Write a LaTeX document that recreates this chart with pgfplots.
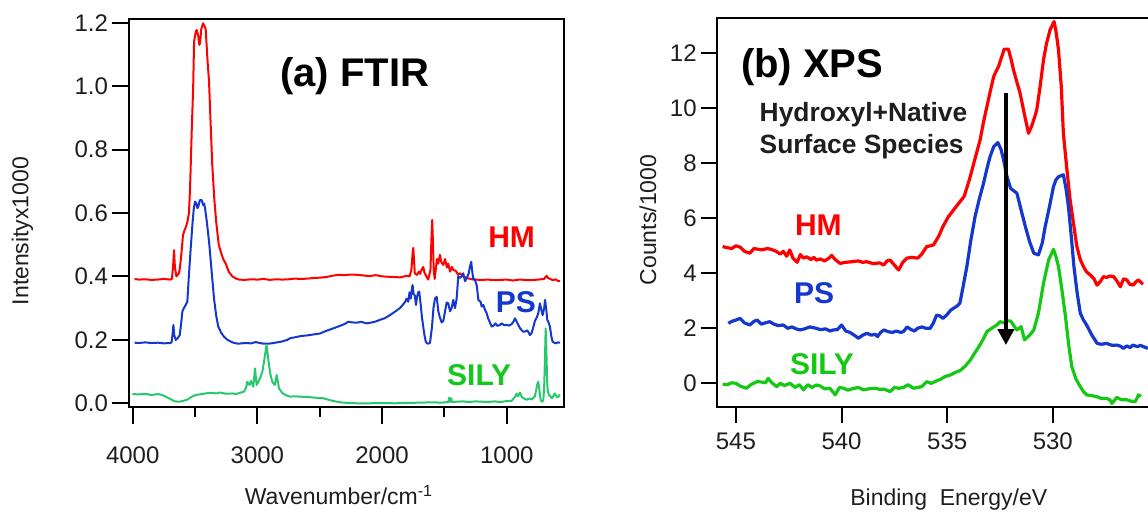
\documentclass[border=0pt]{standalone}
\usepackage{fontspec}
\setmainfont{Liberation Sans}
\usepackage{pgfplots}
\pgfplotsset{compat=1.18}
\usetikzlibrary{arrows.meta}
\definecolor{cred}{RGB}{255,0,0}
\definecolor{cblue}{RGB}{20,55,205}
\definecolor{cgreenA}{RGB}{40,200,110}
\definecolor{cgreenL}{RGB}{20,200,30}
\definecolor{cgreenB}{RGB}{20,200,20}
\definecolor{ctext}{RGB}{30,30,30}
\pgfplotsset{
  mystyle/.style={
    scale only axis,
    axis line style={line width=1pt, black},
    every tick/.style={line width=1pt, black},
    tick align=outside,
    xtick pos=bottom, ytick pos=left,
    ticklabel style={font=\fontsize{12}{14}\selectfont, text=ctext},
    yticklabel style={xshift=1.5pt},
    /pgf/number format/assume math mode=true,
    /pgf/number format/1000 sep={},
  }
}
\begin{document}
\begin{tikzpicture}
\useasboundingbox (0,0) rectangle (574pt,257pt);
% ---------------- Panel (a) FTIR ----------------
\begin{axis}[mystyle,
  at={(64.5pt,53.5pt)}, anchor=south west,
  width=217.5pt, height=193.75pt,
  x dir=reverse, xmin=541, xmax=4030, ymin=-0.0117, ymax=1.21,
  xtick={1000,2000,3000,4000}, minor xtick={1500,2500,3500},
  ytick={0,0.2,0.4,0.6,0.8,1.0,1.2},
  major tick length=8.5pt, minor tick length=5pt,
  xticklabel style={yshift=-8pt},
  yticklabel style={/pgf/number format/.cd, fixed, fixed zerofill, precision=1},
]
\addplot[cred, line width=1pt, line join=round] coordinates {
(3985,0.392)(3950,0.390)(3900,0.391)(3850,0.389)(3800,0.390)(3750,0.392)(3700,0.390)
(3685,0.393)(3675,0.440)(3669,0.483)(3662,0.430)(3650,0.400)(3640,0.405)(3630,0.410)
(3622,0.425)(3610,0.470)(3597,0.530)(3585,0.545)(3570,0.560)(3560,0.575)(3549,0.600)
(3540,0.680)(3527,0.856)(3515,1.00)(3508,1.14)(3495,1.17)(3487,1.177)(3475,1.16)
(3466,1.13)(3460,1.135)(3450,1.18)(3436,1.198)(3425,1.19)(3415,1.18)(3400,1.08)
(3388,1.014)(3375,0.88)(3362,0.75)(3345,0.64)(3330,0.57)(3310,0.50)(3294,0.478)
(3275,0.455)(3254,0.44)(3230,0.415)(3201,0.400)(3170,0.393)(3148,0.390)(3100,0.389)
(3050,0.391)(3000,0.390)(2950,0.392)(2900,0.389)(2850,0.391)(2800,0.390)(2750,0.391)
(2700,0.393)(2650,0.392)(2600,0.393)(2550,0.395)(2500,0.396)(2450,0.398)(2400,0.402)
(2350,0.405)(2300,0.404)(2250,0.406)(2200,0.405)(2150,0.403)(2100,0.401)(2050,0.404)
(2000,0.400)(1950,0.399)(1900,0.398)(1857,0.397)(1800,0.402)(1780,0.400)(1765,0.420)
(1755,0.475)(1750,0.490)(1745,0.460)(1738,0.410)(1720,0.405)(1705,0.415)(1695,0.408)
(1685,0.420)(1670,0.430)(1660,0.412)(1645,0.400)(1630,0.390)(1612,0.420)(1604,0.520)
(1598,0.578)(1593,0.520)(1586,0.420)(1578,0.392)(1570,0.420)(1560,0.455)(1550,0.440)
(1536,0.468)(1525,0.445)(1509,0.436)(1495,0.455)(1480,0.428)(1469,0.440)(1455,0.415)
(1440,0.430)(1429,0.420)(1410,0.418)(1390,0.405)(1375,0.410)(1350,0.400)(1320,0.395)
(1290,0.392)(1269,0.390)(1200,0.389)(1150,0.390)(1100,0.388)(1050,0.389)(1000,0.390)
(950,0.387)(900,0.390)(850,0.389)(800,0.388)(750,0.390)(700,0.392)(690,0.398)
(680,0.402)(670,0.395)(650,0.392)(630,0.388)(610,0.391)(590,0.386)(573,0.385)
};
\addplot[cblue, line width=1pt, line join=round] coordinates {
(3985,0.191)(3950,0.190)(3900,0.192)(3850,0.190)(3800,0.191)(3750,0.189)(3700,0.190)
(3688,0.192)(3680,0.220)(3674,0.247)(3667,0.215)(3655,0.200)(3640,0.205)(3623,0.215)
(3612,0.250)(3602,0.289)(3590,0.300)(3575,0.310)(3562,0.320)(3550,0.400)(3535,0.489)
(3520,0.570)(3510,0.615)(3500,0.636)(3490,0.630)(3481,0.615)(3474,0.620)(3462,0.640)
(3447,0.641)(3435,0.625)(3428,0.630)(3420,0.615)(3405,0.570)(3388,0.510)(3368,0.420)
(3348,0.330)(3330,0.275)(3314,0.242)(3290,0.222)(3268,0.210)(3240,0.200)(3200,0.192)
(3174,0.189)(3150,0.188)(3100,0.190)(3050,0.189)(3014,0.193)(2980,0.190)(2950,0.188)
(2907,0.188)(2870,0.190)(2830,0.193)(2800,0.195)(2760,0.200)(2738,0.205)(2700,0.208)
(2650,0.212)(2600,0.214)(2550,0.217)(2498,0.220)(2450,0.228)(2400,0.235)(2338,0.244)
(2300,0.250)(2271,0.257)(2240,0.255)(2200,0.254)(2170,0.257)(2124,0.252)(2080,0.255)
(2050,0.258)(2017,0.263)(1980,0.268)(1937,0.278)(1900,0.288)(1857,0.300)(1830,0.312)
(1815,0.320)(1803,0.330)(1790,0.320)(1780,0.350)(1770,0.330)(1760,0.365)(1755,0.373)
(1748,0.345)(1738,0.340)(1728,0.310)(1720,0.335)(1710,0.350)(1702,0.352)(1690,0.310)
(1680,0.270)(1670,0.242)(1660,0.215)(1650,0.195)(1642,0.190)(1630,0.188)(1616,0.190)
(1600,0.240)(1588,0.300)(1576,0.330)(1562,0.336)(1549,0.290)(1536,0.270)(1522,0.255)
(1509,0.260)(1495,0.290)(1482,0.318)(1469,0.315)(1455,0.290)(1442,0.300)(1429,0.326)
(1415,0.300)(1402,0.330)(1389,0.400)(1375,0.395)(1362,0.400)(1349,0.410)(1335,0.385)
(1322,0.394)(1305,0.410)(1296,0.430)(1285,0.446)(1278,0.420)(1270,0.395)(1255,0.389)
(1240,0.370)(1228,0.326)(1210,0.320)(1201,0.305)(1188,0.310)(1175,0.295)(1161,0.284)
(1150,0.268)(1135,0.255)(1121,0.242)(1105,0.245)(1090,0.252)(1075,0.244)(1055,0.247)
(1040,0.252)(1020,0.246)(1001,0.247)(980,0.245)(960,0.250)(945,0.258)(934,0.268)
(921,0.258)(905,0.245)(894,0.237)(880,0.230)(868,0.226)(854,0.226)(835,0.230)
(820,0.220)(814,0.215)(800,0.222)(787,0.240)(774,0.260)(760,0.270)(747,0.284)
(734,0.315)(720,0.290)(712,0.278)(700,0.300)(693,0.326)(684,0.300)(675,0.263)
(665,0.255)(654,0.242)(642,0.210)(632,0.194)(610,0.189)(590,0.192)(573,0.191)
};
\addplot[cgreenA, line width=1pt, line join=round] coordinates {
(4003,0.029)(3950,0.028)(3900,0.030)(3850,0.026)(3800,0.029)(3763,0.026)(3730,0.020)
(3700,0.014)(3682,0.010)(3660,0.006)(3629,0.005)(3600,0.007)(3560,0.012)(3530,0.020)
(3495,0.026)(3450,0.029)(3400,0.032)(3362,0.033)(3330,0.031)(3300,0.034)(3250,0.030)
(3200,0.031)(3174,0.029)(3140,0.033)(3107,0.037)(3090,0.050)(3081,0.068)(3070,0.060)
(3062,0.058)(3052,0.071)(3040,0.060)(3033,0.052)(3025,0.085)(3019,0.110)(3012,0.080)
(3006,0.058)(2990,0.070)(2974,0.084)(2960,0.100)(2947,0.131)(2936,0.160)(2926,0.184)
(2916,0.150)(2907,0.121)(2895,0.090)(2881,0.068)(2870,0.062)(2861,0.058)(2852,0.075)
(2845,0.089)(2837,0.070)(2827,0.047)(2800,0.032)(2773,0.026)(2738,0.021)(2700,0.022)
(2666,0.021)(2600,0.020)(2550,0.018)(2474,0.016)(2400,0.008)(2350,0.004)(2313,0.002)
(2250,0.001)(2200,0.000)(2100,0.000)(2000,0.001)(1900,0.000)(1800,0.001)(1700,0.002)
(1600,0.003)(1520,0.002)(1470,0.004)(1461,0.018)(1455,0.004)(1445,0.016)(1440,0.004)
(1400,0.005)(1350,0.006)(1300,0.004)(1250,0.006)(1200,0.005)(1150,0.004)(1100,0.006)
(1050,0.004)(1000,0.007)(960,0.008)(935,0.020)(921,0.030)(910,0.022)(894,0.034)
(880,0.020)(860,0.015)(841,0.011)(820,0.015)(800,0.012)(785,0.018)(775,0.021)
(765,0.040)(755,0.060)(747,0.068)(738,0.040)(728,0.010)(715,0.005)(707,0.010)
(700,0.050)(693,0.150)(688,0.236)(683,0.180)(677,0.080)(672,0.040)(660,0.025)
(650,0.022)(640,0.016)(630,0.020)(620,0.028)(613,0.031)(600,0.020)(587,0.020)(575,0.028)
};
\end{axis}
% ---------------- Panel (b) XPS ----------------
\begin{axis}[mystyle,
  at={(358.35pt,53.65pt)}, anchor=south west,
  width=216.65pt, height=194.2pt,
  x dir=reverse, xmin=525.4, xmax=545.91, ymin=-0.85, ymax=13.27,
  xtick={530,535,540,545}, ytick={0,2,4,6,8,10,12},
  major tick length=8pt,
  xticklabel style={yshift=-1.5pt},
]
\addplot[cred, line width=1.6pt, line join=round] coordinates {
(545.63,4.97)(545.4,4.93)(545.2,4.90)(545.0,5.00)(544.8,4.95)(544.6,4.80)(544.34,4.73)
(544.15,4.90)(544.0,4.88)(543.8,4.85)(543.5,4.90)(543.3,4.86)(543.1,4.80)(542.9,4.70)
(542.76,4.80)(542.6,4.62)(542.45,4.85)(542.3,4.55)(542.1,4.40)(541.95,4.68)(541.8,4.55)
(541.65,4.60)(541.45,4.50)(541.3,4.58)(541.2,4.48)(541.0,4.52)(540.8,4.45)(540.6,4.55)
(540.47,4.65)(540.3,4.50)(540.07,4.36)(539.8,4.40)(539.5,4.42)(539.2,4.45)(539.0,4.40)
(538.8,4.42)(538.5,4.35)(538.2,4.38)(538.0,4.30)(537.85,4.45)(537.7,4.48)(537.5,4.30)
(537.3,4.12)(537.1,4.40)(536.9,4.55)(536.7,4.58)(536.4,4.55)(536.2,4.70)(535.97,4.97)
(535.8,5.00)(535.65,5.03)(535.4,5.35)(535.2,5.70)(534.95,6.05)(534.7,6.30)(534.45,6.55)
(534.2,6.79)(533.95,7.40)(533.76,7.94)(533.6,8.40)(533.44,8.85)(533.28,9.50)(533.12,10.06)
(532.95,10.65)(532.8,11.15)(532.65,11.40)(532.57,11.51)(532.45,11.80)(532.3,12.15)
(532.1,12.15)(531.95,11.70)(531.86,11.39)(531.7,10.95)(531.55,10.55)(531.35,9.80)
(531.15,9.09)(531.0,9.35)(530.85,9.70)(530.76,9.94)(530.6,10.80)(530.44,11.76)
(530.3,12.35)(530.13,12.85)(529.94,13.15)(529.85,12.80)(529.73,12.12)(529.6,10.80)
(529.5,9.09)(529.35,7.90)(529.18,6.67)(529.0,5.70)(528.86,4.97)(528.7,4.50)(528.55,4.24)
(528.4,4.05)(528.23,3.94)(528.05,3.80)(527.91,3.57)(527.75,3.70)(527.6,3.88)(527.45,3.85)
(527.3,3.90)(527.12,3.88)(526.95,3.70)(526.8,3.51)(526.65,3.80)(526.5,3.76)(526.35,3.60)
(526.2,3.57)(526.05,3.70)(525.94,3.76)(525.74,3.60)
};
\addplot[cblue, line width=1.6pt, line join=round] coordinates {
(545.36,2.18)(545.2,2.25)(545.0,2.30)(544.8,2.36)(544.6,2.20)(544.34,2.12)(544.15,2.25)
(544.0,2.30)(543.8,2.15)(543.6,2.20)(543.4,2.24)(543.2,2.15)(543.0,2.10)(542.76,2.12)
(542.55,2.00)(542.35,2.05)(542.15,1.98)(541.97,1.94)(541.75,1.98)(541.5,2.05)(541.2,2.00)
(541.0,1.95)(540.75,1.98)(540.55,1.90)(540.4,1.94)(540.2,1.95)(540.0,2.12)(539.8,1.90)
(539.6,1.85)(539.4,1.75)(539.2,1.64)(539.0,1.75)(538.8,1.82)(538.6,1.75)(538.4,1.78)
(538.3,1.70)(538.15,1.85)(538.0,1.94)(537.8,1.88)(537.6,1.85)(537.4,1.90)(537.2,1.85)
(537.07,1.88)(536.9,2.05)(536.7,1.95)(536.55,1.90)(536.4,2.00)(536.2,2.05)(536.0,2.00)
(535.8,2.00)(535.65,2.20)(535.5,2.48)(535.35,2.45)(535.2,2.36)(535.0,2.50)(534.85,2.65)
(534.7,2.73)(534.55,2.80)(534.4,2.91)(534.25,3.50)(534.07,4.24)(533.88,5.20)(533.68,6.06)
(533.48,6.70)(533.28,7.27)(533.12,7.80)(532.97,8.24)(532.8,8.60)(532.6,8.75)(532.45,8.50)
(532.33,8.12)(532.18,7.55)(532.0,7.09)(531.85,7.00)(531.7,6.91)(531.5,6.30)(531.3,5.70)
(531.1,5.15)(530.9,4.73)(530.68,4.67)(530.5,5.10)(530.36,5.70)(530.15,6.45)(529.97,7.15)
(529.85,7.40)(529.73,7.51)(529.5,7.58)(529.38,7.10)(529.26,6.42)(529.12,5.30)(529.0,4.24)
(528.85,3.30)(528.7,2.55)(528.55,2.30)(528.4,2.12)(528.15,1.75)(527.9,1.45)(527.7,1.42)
(527.45,1.45)(527.2,1.38)(526.97,1.39)(526.8,1.35)(526.66,1.27)(526.5,1.36)(526.35,1.30)
(526.2,1.39)(526.0,1.33)(525.85,1.38)(525.7,1.33)(525.5,1.27)
};
\addplot[cgreenB, line width=1.6pt, line join=round] coordinates {
(545.63,-0.03)(545.4,-0.05)(545.2,0.02)(545.0,0.00)(544.8,-0.10)(544.5,-0.18)(544.3,-0.05)
(544.0,0.06)(543.8,0.05)(543.6,0.02)(543.47,0.18)(543.3,0.02)(543.07,-0.12)(542.9,0.00)
(542.7,-0.08)(542.44,0.00)(542.2,-0.15)(542.0,-0.05)(541.8,-0.24)(541.6,-0.05)(541.4,-0.15)
(541.2,-0.06)(541.0,-0.10)(540.8,-0.20)(540.55,-0.18)(540.3,-0.42)(540.1,-0.15)(539.9,-0.18)
(539.7,-0.25)(539.5,-0.20)(539.2,-0.15)(538.96,-0.24)(538.7,-0.20)(538.4,-0.18)(538.2,-0.22)
(538.0,-0.21)(537.7,-0.30)(537.5,-0.15)(537.3,-0.18)(537.07,-0.15)(536.85,-0.05)(536.6,-0.18)
(536.4,-0.15)(536.2,-0.12)(535.97,0.06)(535.75,0.00)(535.5,0.09)(535.3,0.15)(535.1,0.25)
(534.86,0.30)(534.6,0.40)(534.4,0.46)(534.15,0.62)(533.9,0.85)(533.7,1.10)(533.5,1.33)
(533.3,1.60)(533.12,1.88)(532.9,2.00)(532.65,2.12)(532.5,2.24)(532.3,2.20)(532.15,2.27)
(532.0,2.27)(531.85,2.10)(531.7,1.94)(531.5,2.06)(531.34,1.58)(531.1,1.75)(530.9,1.94)
(530.68,2.55)(530.44,3.64)(530.2,4.48)(529.97,4.87)(529.85,4.60)(529.73,4.24)(529.55,3.30)
(529.4,2.42)(529.25,1.40)(529.1,0.60)(528.9,0.15)(528.7,-0.12)(528.55,-0.30)(528.4,-0.42)
(528.15,-0.45)(527.9,-0.49)(527.7,-0.55)(527.45,-0.55)(527.3,-0.60)(527.2,-0.73)
(526.97,-0.51)(526.75,-0.60)(526.5,-0.60)(526.3,-0.65)(526.1,-0.67)(525.94,-0.42)(525.83,-0.48)
};
\draw[line width=2pt, -{Triangle[length=8pt,width=8pt]}] (axis cs:532.22,10.55) -- (axis cs:532.22,1.39);
\end{axis}
% ---------------- Texts ----------------
\node[anchor=base west, inner sep=0pt, font=\fontsize{20}{24}\selectfont\bfseries] at (140pt,213.5pt) {(a) FTIR};
\node[anchor=base west, inner sep=0pt, font=\fontsize{20}{24}\selectfont\bfseries] at (370.35pt,218.35pt) {(b) XPS};
\node[anchor=base west, inner sep=0pt, font=\fontsize{13.2}{16}\selectfont\bfseries, text=ctext] at (379.65pt,196.15pt) {Hydroxyl+Native};
\node[anchor=base west, inner sep=0pt, font=\fontsize{13.2}{16}\selectfont\bfseries, text=ctext] at (379.65pt,180.35pt) {Surface Species};
\node[anchor=base, inner sep=0pt, font=\fontsize{15}{18}\selectfont\bfseries, text=cred] at (255.8pt,133.3pt) {HM};
\node[anchor=base, inner sep=0pt, font=\fontsize{15}{18}\selectfont\bfseries, text=cblue] at (257.9pt,100.8pt) {PS};
\node[anchor=base, inner sep=0pt, font=\fontsize{15}{18}\selectfont\bfseries, text=cgreenL] at (239.6pt,64.15pt) {SILY};
\node[anchor=base, inner sep=0pt, font=\fontsize{15}{18}\selectfont\bfseries, text=cred] at (409.2pt,139.15pt) {HM};
\node[anchor=base, inner sep=0pt, font=\fontsize{15}{18}\selectfont\bfseries, text=cblue] at (407.1pt,105pt) {PS};
\node[anchor=base, inner sep=0pt, font=\fontsize{15}{18}\selectfont\bfseries, text=cgreenB] at (411pt,69.65pt) {SILY};
\node[rotate=90, inner sep=0pt, font=\fontsize{11.5}{14}\selectfont, text=ctext] at (11.25pt,141.5pt) {Intensityx1000};
\node[anchor=base, inner sep=0pt, font=\fontsize{11.5}{14}\selectfont, text=ctext] at (169.5pt,4.5pt) {Wavenumber/cm\textsuperscript{-1}};
\node[rotate=90, inner sep=0pt, font=\fontsize{11.5}{14}\selectfont, text=ctext] at (324pt,147pt) {Counts/1000};
\node[anchor=base, inner sep=0pt, font=\fontsize{11.5}{14}\selectfont, text=ctext] at (474.4pt,4pt) {Binding\ \ Energy/eV};
\end{tikzpicture}
\end{document}
